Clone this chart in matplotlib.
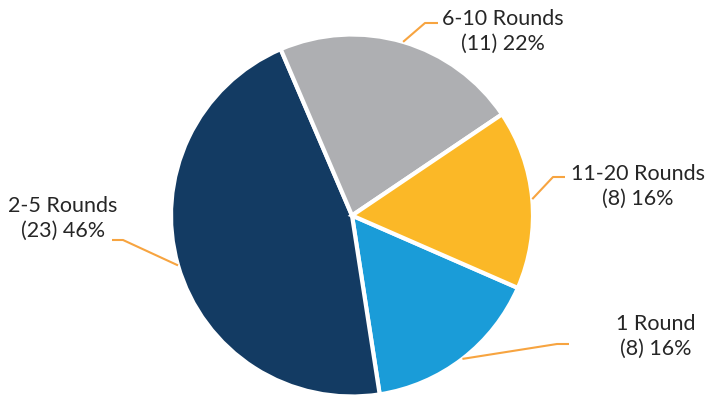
import numpy as np
import matplotlib.pyplot as plt

categories = ['1 Round', '2-5 Rounds', '6-10 Rounds', '11-20 Rounds']
counts = [8, 23, 11, 8]
percents = [16, 46, 22, 16]
colors = ['#1A9CD8', '#133B63', '#AEAFB2', '#FBB827']

plt.rcParams['font.family'] = ['Lato', 'DejaVu Sans']

W, H = 708, 396
fig = plt.figure(figsize=(W / 100, H / 100), dpi=100)
ax = fig.add_axes([0, 0, 1, 1])

cx, cy, r = 352, H - 215.5, 181
start = -23.6
wedges, _ = ax.pie(counts, colors=colors, startangle=start, counterclock=False,
                   center=(cx, cy), radius=r, frame=True,
                   wedgeprops=dict(edgecolor='white', linewidth=3))
ax.set_xlim(0, W)
ax.set_ylim(0, H)
ax.set_aspect('equal')
ax.axis('off')

# elbow point, end of horizontal stub, label centre
layout = {
    '1 Round': ((557, 344), (569, 344), (656, 336)),
    '2-5 Rounds': ((123, 240), (112, 240), (63, 218)),
    '6-10 Rounds': ((425, 23), (438, 23), (503, 31)),
    '11-20 Rounds': ((553, 177), (565, 177), (638, 186)),
}

for w, cat, n, p in zip(wedges, categories, counts, percents):
    mid = np.deg2rad((w.theta1 + w.theta2) / 2)
    x0 = cx + r * np.cos(mid)
    y0 = cy + r * np.sin(mid)
    (ex, ey), (hx, hy), (tx, ty) = layout[cat]
    ax.plot([x0, ex, hx], [y0, H - ey, H - hy], color='#F7A440', lw=1.5,
            solid_capstyle='butt')
    ax.text(tx, H - ty, f'{cat}\n({n}) {p}%', ha='center', va='center',
            fontsize=15.5, color='#262626', linespacing=1.3)

fig.savefig('out.png', dpi=100)
